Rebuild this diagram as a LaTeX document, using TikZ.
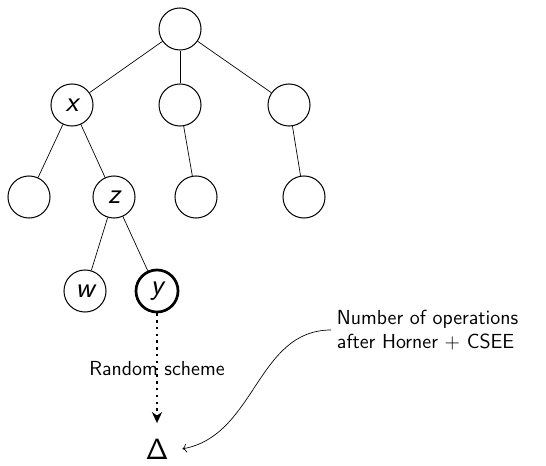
\documentclass[tikz,border=0pt]{standalone}
\usetikzlibrary{arrows.meta}

\tikzset{
  vertex/.style={circle, draw, semithick, minimum size=24.8pt, inner sep=0pt, font=\LARGE\sffamily\itshape},
  chosen/.style={vertex, ultra thick},
  edge/.style={thin}
}

\begin{document}
\begin{tikzpicture}[x=0.59pt, y=-0.59pt, font=\large\sffamily]
  \useasboundingbox (0,0) rectangle (546,465);
  % the tree
  \node[vertex] (root) at (180,29) {};
  \node[vertex] (x) at (72,105) {x};
  \node[vertex] (mid) at (180,105) {};
  \node[vertex] (right) at (289,105) {};
  \node[vertex] (xl) at (29,197) {};
  \node[vertex] (z) at (114,197) {z};
  \node[vertex] (midc) at (196,197) {};
  \node[vertex] (rightc) at (304,197) {};
  \node[vertex] (w) at (85,291) {w};
  \node[chosen] (y) at (157,291) {y};
  \draw[edge] (root) -- (x);
  \draw[edge] (root) -- (mid);
  \draw[edge] (root) -- (right);
  \draw[edge] (x) -- (xl);
  \draw[edge] (x) -- (z);
  \draw[edge] (mid) -- (midc);
  \draw[edge] (right) -- (rightc);
  \draw[edge] (z) -- (w);
  \draw[edge] (z) -- (y);
  % result of the scheme
  \node[font=\LARGE\sffamily, inner sep=1pt, anchor=base] (delta) at (157,459) {Δ};
  \node[anchor=west, align=left] (note) at (331,330) {Number of operations\\after Horner + CSEE};
  \draw[line width=1.4pt, dash pattern=on 1.4pt off 2.6pt, -{Stealth[length=6.5pt, width=6pt]}] (y) -- ([yshift=8pt]delta.north) node[midway] {Random scheme};
  \draw[->] (note.west) to[out=180, in=10] ([xshift=7pt]delta.east);
\end{tikzpicture}
\end{document}
